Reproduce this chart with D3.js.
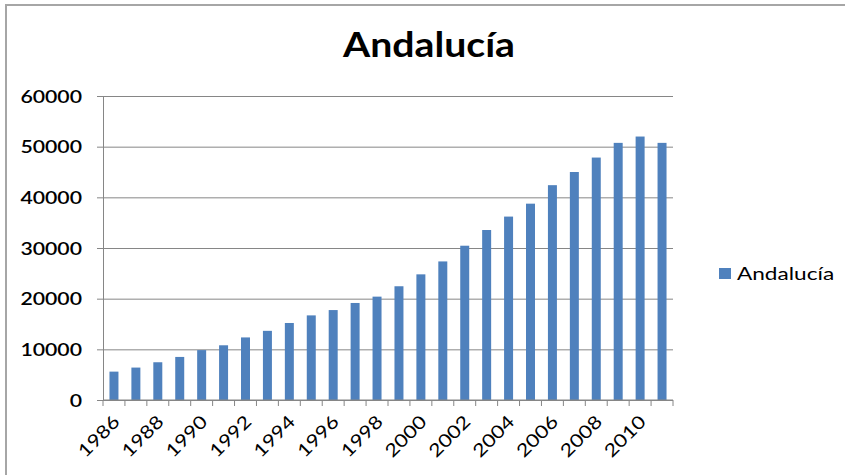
<!DOCTYPE html>
<html>
<head>
<meta charset="utf-8">
<script src="https://cdn.jsdelivr.net/npm/d3@7"></script>
<style>
  html, body { margin: 0; padding: 0; background: #fff; }
  svg { display: block; }
  text { font-family: Lato, "Open Sans", sans-serif; fill: #000; }
</style>
</head>
<body>
<svg id="chart" width="845" height="475"></svg>
<script>
// Andalucía yearly series, 1986–2011
const years = [1986, 1987, 1988, 1989, 1990, 1991, 1992, 1993, 1994, 1995, 1996, 1997, 1998,
               1999, 2000, 2001, 2002, 2003, 2004, 2005, 2006, 2007, 2008, 2009, 2010, 2011];
const values = [5600, 6400, 7450, 8500, 9850, 10800, 12350, 13650, 15200, 16700, 17750, 19150, 20400,
                22450, 24800, 27350, 30450, 33550, 36200, 38750, 42400, 45000, 47850, 50750, 52000, 50750];
const yTicks = [0, 10000, 20000, 30000, 40000, 50000, 60000];
const seriesName = "Andalucía";
const title = "Andalucía";

const svg = d3.select("#chart");
const W = 845, H = 475;
const plot = { left: 103, right: 673, top: 96, bottom: 400 };
const barColor = "#4F81BD";
const axisColor = "#868686";

// outer chart frame
svg.append("rect")
  .attr("x", 6).attr("y", 5).attr("width", W + 10).attr("height", H + 10)
  .attr("fill", "#fff").attr("stroke", "#a6a6a6").attr("stroke-width", 2);

const x = d3.scaleBand().domain(years).range([plot.left, plot.right]).padding(0);
const y = d3.scaleLinear().domain([0, 60000]).range([plot.bottom, plot.top]);

// horizontal gridlines + y axis
const yAxis = d3.axisLeft(y).tickValues(yTicks).tickSize(6).tickFormat(d3.format("d"));
const gy = svg.append("g").attr("transform", `translate(${plot.left},0)`).call(yAxis);
gy.select(".domain").attr("stroke", axisColor);
gy.selectAll(".tick line").attr("stroke", axisColor).attr("x2", -6);
gy.selectAll(".tick").append("line")
  .attr("x1", 0).attr("x2", plot.right - plot.left)
  .attr("stroke", axisColor).attr("stroke-width", 1);
gy.selectAll(".tick text")
  .attr("x", 0).attr("dy", "0.36em")
  .attr("text-anchor", "end")
  .attr("transform", "translate(-21,0) scale(1.25,1)")
  .style("font-size", "17px").style("font-weight", "600");

// bars
const barW = x.bandwidth() * 0.41;
svg.append("g").selectAll("rect").data(years).join("rect")
  .attr("x", (d) => x(d) + (x.bandwidth() - barW) / 2)
  .attr("y", (d, i) => y(values[i]))
  .attr("width", barW)
  .attr("height", (d, i) => y(0) - y(values[i]))
  .attr("fill", barColor);

// x axis with ticks between categories
const gx = svg.append("g");
gx.append("line")
  .attr("x1", plot.left).attr("x2", plot.right)
  .attr("y1", plot.bottom).attr("y2", plot.bottom)
  .attr("stroke", axisColor);
const boundaries = years.map((d) => x(d)).concat([x(years[years.length - 1]) + x.bandwidth()]);
gx.selectAll("line.tk").data(boundaries).join("line").attr("class", "tk")
  .attr("x1", (d) => d).attr("x2", (d) => d)
  .attr("y1", plot.bottom).attr("y2", plot.bottom + 6)
  .attr("stroke", axisColor);
gx.selectAll("text").data(years.filter((d, i) => i % 2 === 0)).join("text")
  .attr("transform", (d) => `translate(${x(d) + x.bandwidth() / 2 + 7},${plot.bottom + 23}) rotate(-45) scale(1.2,1)`)
  .attr("text-anchor", "end")
  .style("font-size", "18px")
  .text((d) => d);

// title
svg.append("text")
  .attr("transform", "translate(429,57) scale(1.12,1)")
  .attr("text-anchor", "middle")
  .style("font-size", "35px").style("font-weight", "bold")
  .text(title);

// legend
const lg = svg.append("g").attr("transform", "translate(719,268)");
lg.append("rect").attr("width", 12).attr("height", 11).attr("fill", barColor);
lg.append("text").attr("transform", "translate(18,12) scale(1.33,1)")
  .style("font-size", "17px")
  .text(seriesName);
</script>
</body>
</html>
